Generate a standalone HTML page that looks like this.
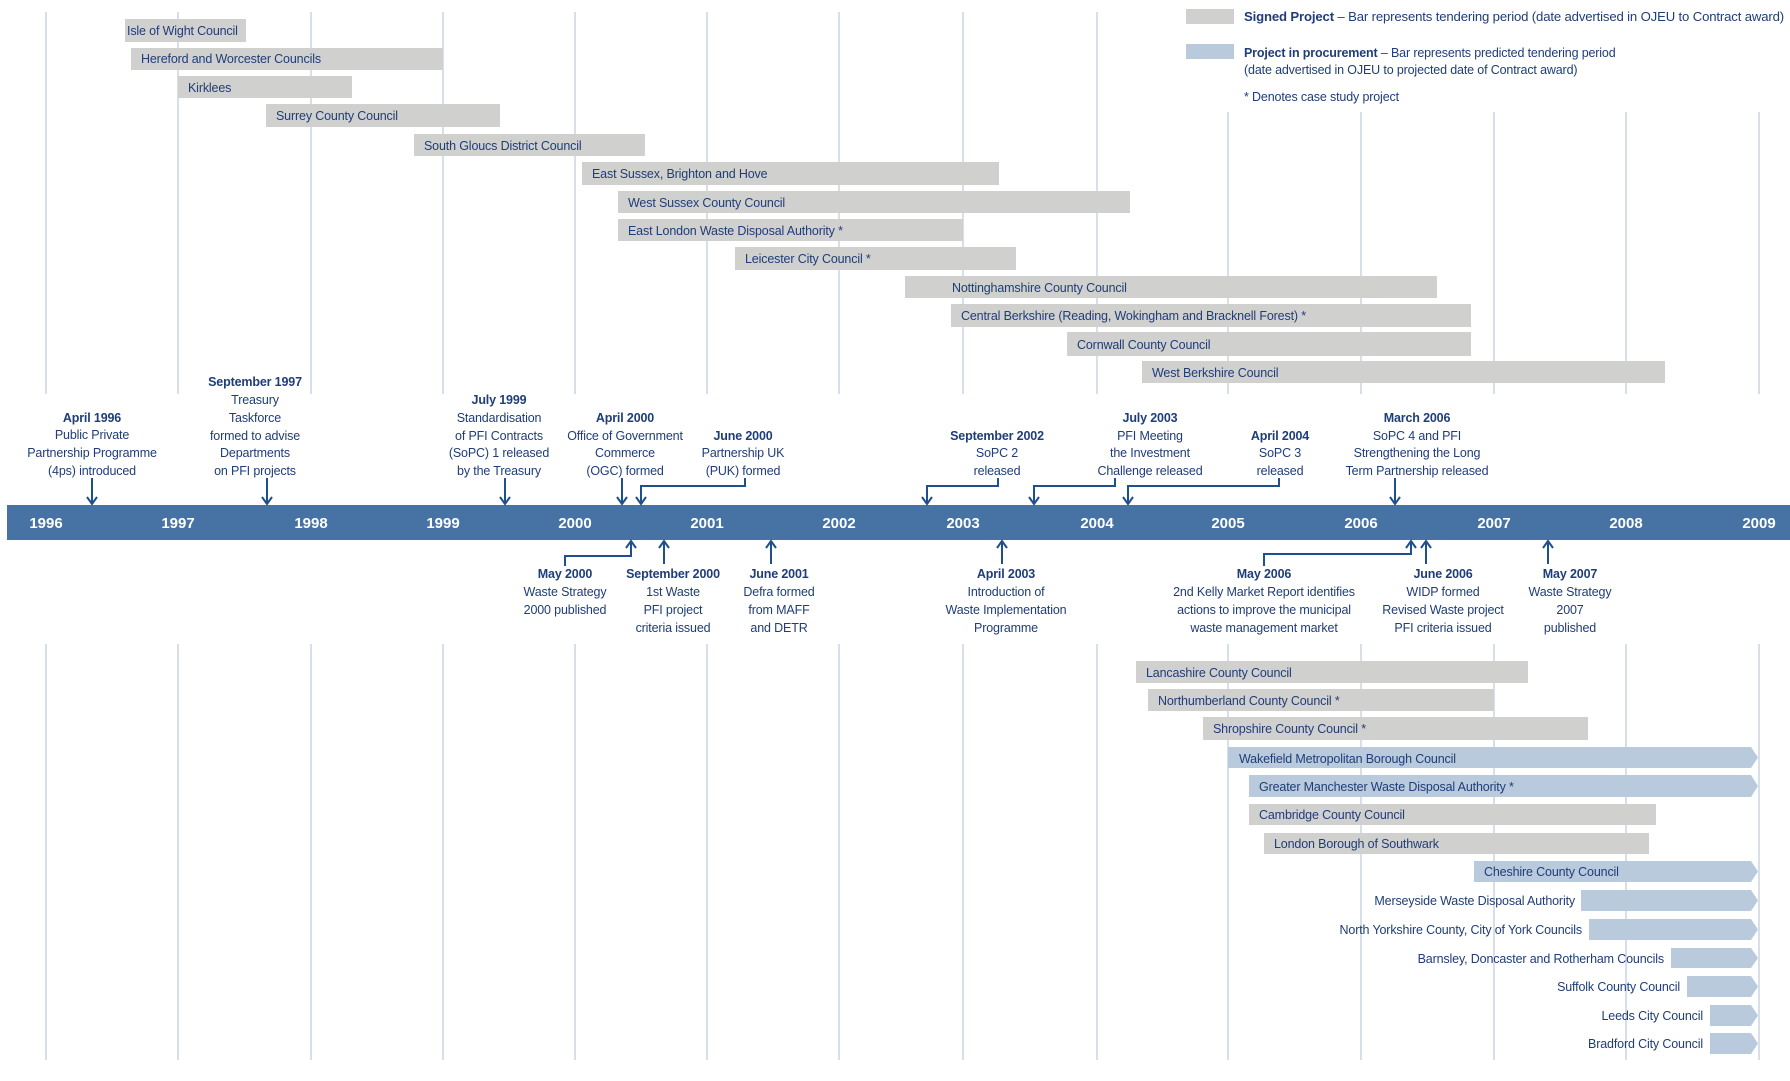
<!DOCTYPE html>
<html><head><meta charset="utf-8"><style>
html,body{margin:0;padding:0;background:#fff;}
svg{display:block;font-family:"Liberation Sans",sans-serif;}
.t{font-size:12.5px;fill:#1f3d78;letter-spacing:-0.15px;}
.b{font-weight:bold;}
.c{text-anchor:middle;}
.r{text-anchor:end;}
.y{font-size:15px;font-weight:bold;fill:#fff;text-anchor:middle;}
.g{stroke:#d6dfea;stroke-width:2;}
.a{stroke:#1f4f8c;stroke-width:2;fill:none;}
.gb{fill:#d0d0cf;}
.bb{fill:#b9cadd;}
</style></head><body>
<svg width="1790" height="1081" viewBox="0 0 1790 1081" xmlns="http://www.w3.org/2000/svg">
<g class="g">
<line x1="46" y1="12" x2="46" y2="394"/><line x1="178" y1="12" x2="178" y2="394"/><line x1="311" y1="12" x2="311" y2="394"/><line x1="443" y1="12" x2="443" y2="394"/><line x1="575" y1="12" x2="575" y2="394"/><line x1="707" y1="12" x2="707" y2="394"/><line x1="839" y1="12" x2="839" y2="394"/><line x1="963" y1="12" x2="963" y2="394"/><line x1="1097" y1="12" x2="1097" y2="394"/><line x1="1228" y1="112" x2="1228" y2="394"/><line x1="1361" y1="112" x2="1361" y2="394"/><line x1="1494" y1="112" x2="1494" y2="394"/><line x1="1626" y1="112" x2="1626" y2="394"/><line x1="1759" y1="112" x2="1759" y2="394"/>
<line x1="46" y1="644" x2="46" y2="1060"/><line x1="178" y1="644" x2="178" y2="1060"/><line x1="311" y1="644" x2="311" y2="1060"/><line x1="443" y1="644" x2="443" y2="1060"/><line x1="575" y1="644" x2="575" y2="1060"/><line x1="707" y1="644" x2="707" y2="1060"/><line x1="839" y1="644" x2="839" y2="1060"/><line x1="963" y1="644" x2="963" y2="1060"/><line x1="1097" y1="644" x2="1097" y2="1060"/><line x1="1228" y1="644" x2="1228" y2="1060"/><line x1="1361" y1="644" x2="1361" y2="1060"/><line x1="1494" y1="644" x2="1494" y2="1060"/><line x1="1626" y1="644" x2="1626" y2="1060"/><line x1="1759" y1="644" x2="1759" y2="1060"/>
</g>
<rect class="gb" x="1186" y="9" width="48" height="15"/>
<rect class="bb" x="1186" y="44" width="48" height="15"/>
<text class="t" x="1244" y="21" textLength="540" lengthAdjust="spacingAndGlyphs"><tspan class="b">Signed Project</tspan> – Bar represents tendering period (date advertised in OJEU to Contract award)</text>
<text class="t" x="1244" y="57"><tspan class="b">Project in procurement</tspan> – Bar represents predicted tendering period</text>
<text class="t" x="1244" y="74">(date advertised in OJEU to projected date of Contract award)</text>
<text class="t" x="1244" y="101">* Denotes case study project</text>
<rect class="gb" x="125" y="19" width="121" height="23"/><text class="t" x="127" y="35">Isle of Wight Council</text>
<rect class="gb" x="131" y="48" width="312" height="22"/><text class="t" x="141" y="63">Hereford and Worcester Councils</text>
<rect class="gb" x="178" y="76" width="174" height="22"/><text class="t" x="188" y="92">Kirklees</text>
<rect class="gb" x="266" y="104" width="234" height="23"/><text class="t" x="276" y="120">Surrey County Council</text>
<rect class="gb" x="414" y="134" width="231" height="22"/><text class="t" x="424" y="150">South Gloucs District Council</text>
<rect class="gb" x="582" y="162" width="417" height="23"/><text class="t" x="592" y="178">East Sussex, Brighton and Hove</text>
<rect class="gb" x="618" y="191" width="512" height="22"/><text class="t" x="628" y="207">West Sussex County Council</text>
<rect class="gb" x="618" y="219" width="345" height="22"/><text class="t" x="628" y="235">East London Waste Disposal Authority *</text>
<rect class="gb" x="735" y="247" width="281" height="23"/><text class="t" x="745" y="263">Leicester City Council *</text>
<rect class="gb" x="905" y="276" width="532" height="22"/><text class="t" x="952" y="292">Nottinghamshire County Council</text>
<rect class="gb" x="951" y="304" width="520" height="23"/><text class="t" x="961" y="320">Central Berkshire (Reading, Wokingham and Bracknell Forest) *</text>
<rect class="gb" x="1067" y="332" width="404" height="24"/><text class="t" x="1077" y="349">Cornwall County Council</text>
<rect class="gb" x="1142" y="361" width="523" height="22"/><text class="t" x="1152" y="377">West Berkshire Council</text>
<rect x="7" y="505" width="1783" height="35" fill="#4672a4"/>
<text class="y" x="46" y="528">1996</text><text class="y" x="178" y="528">1997</text><text class="y" x="311" y="528">1998</text><text class="y" x="443" y="528">1999</text><text class="y" x="575" y="528">2000</text><text class="y" x="707" y="528">2001</text><text class="y" x="839" y="528">2002</text><text class="y" x="963" y="528">2003</text><text class="y" x="1097" y="528">2004</text><text class="y" x="1228" y="528">2005</text><text class="y" x="1361" y="528">2006</text><text class="y" x="1494" y="528">2007</text><text class="y" x="1626" y="528">2008</text><text class="y" x="1759" y="528">2009</text>
<g class="a">
<path d="M92 478V504M87 497L92 504L97 497"/>
<path d="M267 478V504M262 497L267 504L272 497"/>
<path d="M505 478V504M500 497L505 504L510 497"/>
<path d="M622 478V504M617 497L622 504L627 497"/>
<path d="M745 478V486H641V504M636 497L641 504L646 497"/>
<path d="M998 478V486H927V504M922 497L927 504L932 497"/>
<path d="M1115 478V486H1034V504M1029 497L1034 504L1039 497"/>
<path d="M1279 478V486H1128V504M1123 497L1128 504L1133 497"/>
<path d="M1395 478V504M1390 497L1395 504L1400 497"/>
<path d="M565 566V556H631V541M626 548L631 541L636 548"/>
<path d="M664 564V541M659 548L664 541L669 548"/>
<path d="M771 564V541M766 548L771 541L776 548"/>
<path d="M1002 564V541M997 548L1002 541L1007 548"/>
<path d="M1264 566V554H1411V541M1406 548L1411 541L1416 548"/>
<path d="M1426 564V541M1421 548L1426 541L1431 548"/>
<path d="M1548 564V541M1543 548L1548 541L1553 548"/>
</g>
<g class="t c">
<text x="92" y="422" class="b">April 1996</text><text x="92" y="439">Public Private</text><text x="92" y="457">Partnership Programme</text><text x="92" y="475">(4ps) introduced</text>
<text x="255" y="386" class="b">September 1997</text><text x="255" y="404">Treasury</text><text x="255" y="422">Taskforce</text><text x="255" y="440">formed to advise</text><text x="255" y="457">Departments</text><text x="255" y="475">on PFI projects</text>
<text x="499" y="404" class="b">July 1999</text><text x="499" y="422">Standardisation</text><text x="499" y="440">of PFI Contracts</text><text x="499" y="457">(SoPC) 1 released</text><text x="499" y="475">by the Treasury</text>
<text x="625" y="422" class="b">April 2000</text><text x="625" y="440">Office of Government</text><text x="625" y="457">Commerce</text><text x="625" y="475">(OGC) formed</text>
<text x="743" y="440" class="b">June 2000</text><text x="743" y="457">Partnership UK</text><text x="743" y="475">(PUK) formed</text>
<text x="997" y="440" class="b">September 2002</text><text x="997" y="457">SoPC 2</text><text x="997" y="475">released</text>
<text x="1150" y="422" class="b">July 2003</text><text x="1150" y="440">PFI Meeting</text><text x="1150" y="457">the Investment</text><text x="1150" y="475">Challenge released</text>
<text x="1280" y="440" class="b">April 2004</text><text x="1280" y="457">SoPC 3</text><text x="1280" y="475">released</text>
<text x="1417" y="422" class="b">March 2006</text><text x="1417" y="440">SoPC 4 and PFI</text><text x="1417" y="457">Strengthening the Long</text><text x="1417" y="475">Term Partnership released</text>
<text x="565" y="578" class="b">May 2000</text><text x="565" y="596">Waste Strategy</text><text x="565" y="614">2000 published</text>
<text x="673" y="578" class="b">September 2000</text><text x="673" y="596">1st Waste</text><text x="673" y="614">PFI project</text><text x="673" y="632">criteria issued</text>
<text x="779" y="578" class="b">June 2001</text><text x="779" y="596">Defra formed</text><text x="779" y="614">from MAFF</text><text x="779" y="632">and DETR</text>
<text x="1006" y="578" class="b">April 2003</text><text x="1006" y="596">Introduction of</text><text x="1006" y="614">Waste Implementation</text><text x="1006" y="632">Programme</text>
<text x="1264" y="578" class="b">May 2006</text><text x="1264" y="596">2nd Kelly Market Report identifies</text><text x="1264" y="614">actions to improve the municipal</text><text x="1264" y="632">waste management market</text>
<text x="1443" y="578" class="b">June 2006</text><text x="1443" y="596">WIDP formed</text><text x="1443" y="614">Revised Waste project</text><text x="1443" y="632">PFI criteria issued</text>
<text x="1570" y="578" class="b">May 2007</text><text x="1570" y="596">Waste Strategy</text><text x="1570" y="614">2007</text><text x="1570" y="632">published</text>
</g>
<rect class="gb" x="1136" y="661" width="392" height="22"/><text class="t" x="1146" y="677">Lancashire County Council</text>
<rect class="gb" x="1148" y="689" width="346" height="22"/><text class="t" x="1158" y="705">Northumberland County Council *</text>
<rect class="gb" x="1203" y="717" width="385" height="23"/><text class="t" x="1213" y="733">Shropshire County Council *</text>
<polygon class="bb" points="1228,747 1751,747 1758,757.5 1751,768 1228,768"/><text class="t" x="1239" y="763">Wakefield Metropolitan Borough Council</text>
<polygon class="bb" points="1249,775 1751,775 1758,786 1751,797 1249,797"/><text class="t" x="1259" y="791">Greater Manchester Waste Disposal Authority *</text>
<rect class="gb" x="1249" y="804" width="407" height="21"/><text class="t" x="1259" y="819">Cambridge County Council</text>
<rect class="gb" x="1264" y="833" width="385" height="21"/><text class="t" x="1274" y="848">London Borough of Southwark</text>
<polygon class="bb" points="1474,861 1751,861 1758,871.5 1751,882 1474,882"/><text class="t" x="1484" y="876">Cheshire County Council</text>
<polygon class="bb" points="1581,890 1751,890 1758,900.5 1751,911 1581,911"/><text class="t r" x="1575" y="905">Merseyside Waste Disposal Authority</text>
<polygon class="bb" points="1589,919 1751,919 1758,929.5 1751,940 1589,940"/><text class="t r" x="1582" y="934">North Yorkshire County, City of York Councils</text>
<polygon class="bb" points="1671,948 1751,948 1758,958 1751,968 1671,968"/><text class="t r" x="1664" y="963">Barnsley, Doncaster and Rotherham Councils</text>
<polygon class="bb" points="1687,976 1751,976 1758,986.5 1751,997 1687,997"/><text class="t r" x="1680" y="991">Suffolk County Council</text>
<polygon class="bb" points="1710,1005 1751,1005 1758,1015.5 1751,1026 1710,1026"/><text class="t r" x="1703" y="1020">Leeds City Council</text>
<polygon class="bb" points="1710,1033 1751,1033 1758,1043.5 1751,1054 1710,1054"/><text class="t r" x="1703" y="1048">Bradford City Council</text>
</svg>
</body></html>
